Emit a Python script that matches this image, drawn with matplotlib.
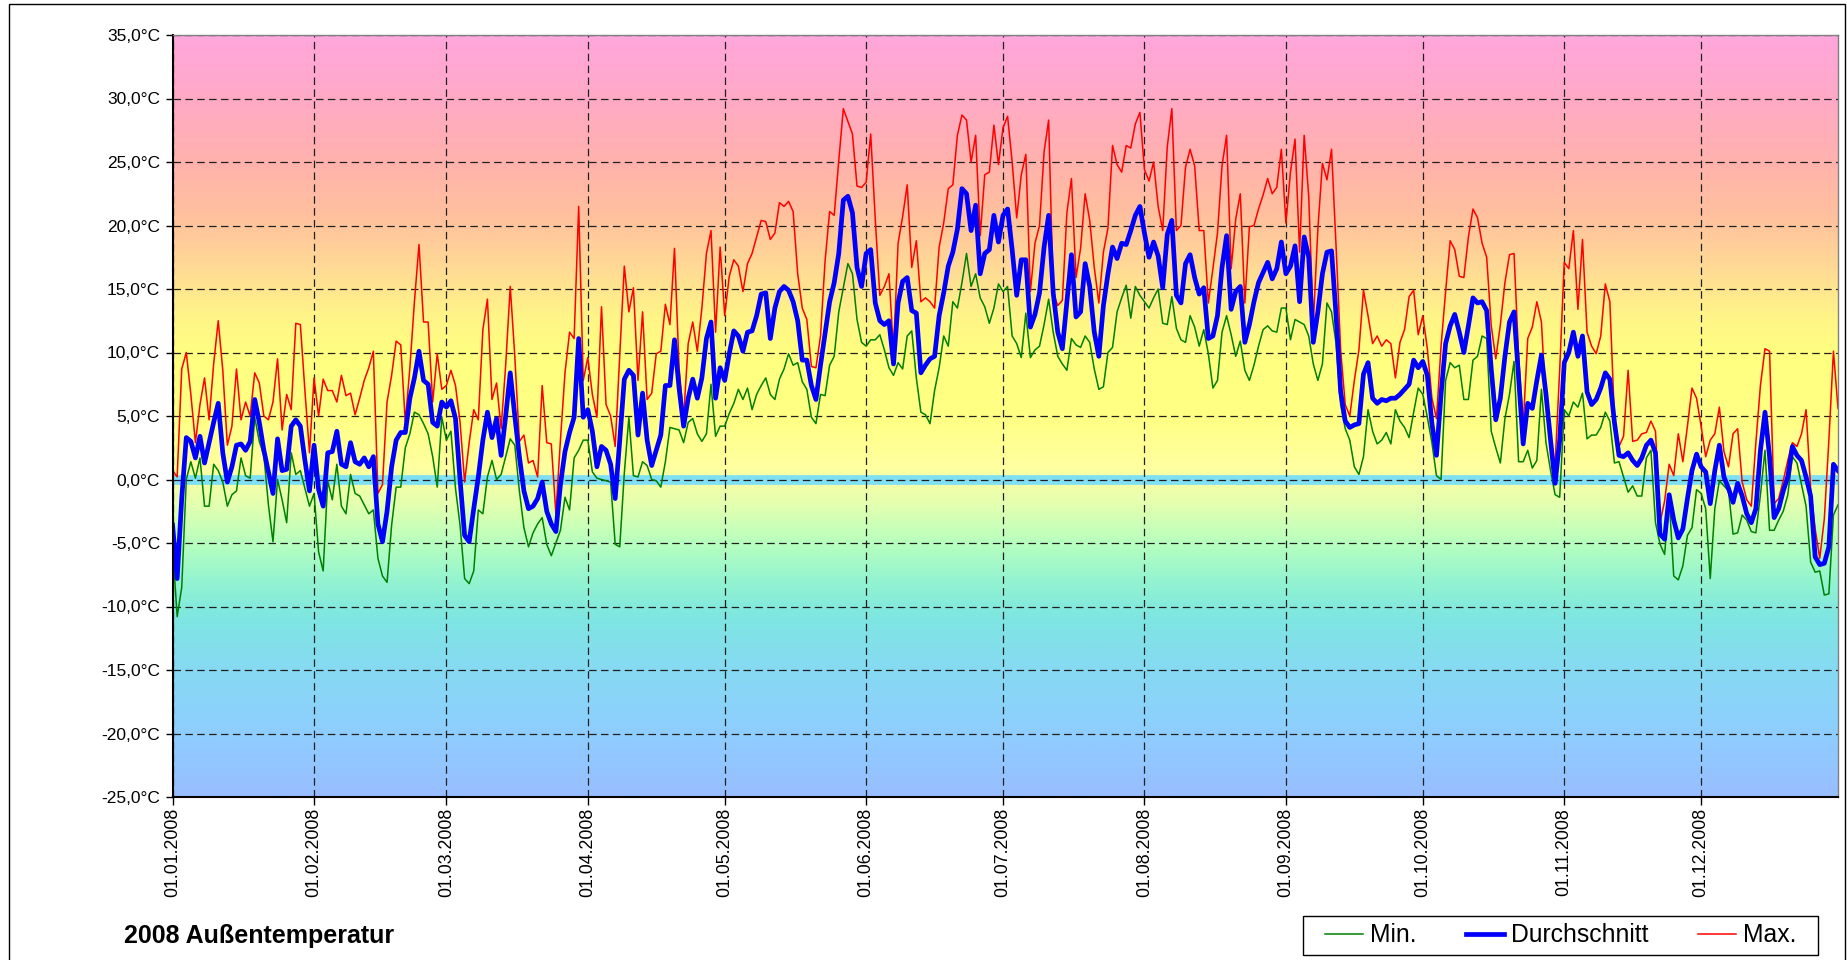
import numpy as np
import pandas as pd
import matplotlib
matplotlib.use("Agg")
import matplotlib.pyplot as plt
import matplotlib.dates as mdates
from matplotlib.colors import LinearSegmentedColormap
from matplotlib.patches import Rectangle
from matplotlib.lines import Line2D
from matplotlib.ticker import FuncFormatter

plt.rcParams['font.family'] = ['Liberation Sans', 'DejaVu Sans']

dates = pd.date_range('2008-01-01', '2008-12-31', freq='D')

t_max = [
    0.7, 0.2, 8.7, 10.0, 6.7, 2.9, 5.9, 8.0, 4.7, 9.1,
    12.5, 8.6, 2.7, 4.2, 8.7, 4.7, 6.1, 5.0, 8.4, 7.6,
    5.0, 4.7, 6.1, 9.5, 3.9, 6.7, 5.5, 12.3, 12.2, 7.0,
    2.1, 8.0, 5.0, 7.9, 7.0, 7.0, 6.1, 8.2, 6.6, 6.8,
    5.1, 6.4, 7.8, 8.8, 10.1, -1.1, -0.4, 6.1, 8.2, 10.9,
    10.6, 4.5, 8.8, 14.0, 18.5, 12.4, 12.4, 6.1, 9.9, 7.1,
    7.4, 8.6, 7.4, 4.5, -0.2, 2.9, 5.5, 4.7, 11.8, 14.2,
    6.3, 7.6, 4.0, 9.0, 15.2, 9.7, 3.0, 3.5, 1.3, 1.5,
    0.2, 7.4, 2.9, 2.8, -2.7, 3.1, 8.4, 11.6, 11.1, 21.5,
    7.8, 9.6, 6.7, 4.9, 13.6, 5.9, 5.0, 2.6, 9.8, 16.8,
    13.2, 15.1, 7.8, 13.2, 6.3, 6.8, 9.9, 10.1, 13.8, 12.2,
    18.2, 8.8, 4.9, 10.7, 12.4, 10.1, 13.5, 17.8, 19.6, 11.6,
    18.3, 12.9, 16.0, 17.3, 16.8, 14.8, 17.0, 17.8, 19.1, 20.4,
    20.3, 18.9, 19.4, 21.8, 21.5, 21.9, 21.1, 16.2, 13.5, 12.6,
    8.9, 8.8, 11.3, 17.2, 21.1, 20.8, 25.1, 29.2, 28.2, 27.2,
    23.1, 23.0, 23.4, 27.2, 20.5, 14.5, 15.2, 16.2, 10.1, 18.6,
    20.7, 23.2, 16.7, 18.8, 14.0, 14.3, 14.0, 13.5, 18.3, 20.2,
    22.9, 23.2, 27.1, 28.7, 28.3, 25.0, 27.1, 19.2, 24.0, 24.2,
    27.9, 24.8, 27.7, 28.6, 25.0, 20.6, 24.0, 25.6, 14.8, 18.6,
    20.0, 25.8, 28.3, 14.7, 13.7, 14.1, 21.0, 23.7, 15.9, 18.2,
    22.5, 20.4, 16.7, 13.9, 17.9, 19.8, 26.3, 24.8, 24.2, 26.3,
    26.1, 28.0, 28.9, 24.4, 23.5, 25.0, 21.5, 19.6, 26.2, 29.2,
    19.6, 20.0, 24.6, 26.0, 24.7, 19.6, 19.6, 13.9, 16.6, 19.4,
    24.7, 27.1, 16.6, 20.5, 22.5, 13.9, 19.9, 20.0, 21.3, 22.4,
    23.7, 22.5, 23.0, 26.0, 20.2, 24.2, 26.8, 17.9, 27.1, 22.3,
    12.2, 19.7, 24.9, 23.6, 26.0, 18.3, 10.2, 5.9, 5.0, 7.8,
    10.2, 14.9, 12.9, 10.7, 11.3, 10.5, 11.0, 10.7, 8.0, 10.8,
    11.8, 14.4, 14.9, 11.4, 12.9, 10.3, 6.4, 4.8, 10.5, 14.8,
    18.8, 18.1, 16.0, 15.9, 19.1, 21.3, 20.6, 18.6, 17.5, 12.1,
    9.5, 12.2, 15.5, 17.7, 17.8, 9.7, 4.2, 11.1, 12.0, 14.0,
    12.4, 5.9, 2.9, 1.2, 8.6, 17.1, 16.6, 19.6, 13.4, 18.9,
    11.6, 10.5, 9.9, 11.3, 15.4, 14.0, 4.8, 2.6, 3.4, 8.6,
    3.0, 3.1, 3.6, 3.7, 4.6, 3.8, -3.4, -1.7, 1.2, 0.3,
    3.6, 1.4, 4.2, 7.2, 6.4, 4.2, 1.8, 3.1, 3.6, 5.7,
    2.2, 1.0, 3.6, 4.0, -0.2, -1.6, -2.1, 2.9, 7.4, 10.3,
    10.1, -1.9, -1.5, -0.1, 1.5, 2.9, 2.6, 3.6, 5.5, -0.7,
    -3.9, -6.2, -3.1, 3.1, 10.1, 5.6,
]

t_avg = [
    -3.6, -7.8, -1.5, 3.3, 3.0, 1.7, 3.4, 1.3, 2.9, 4.5,
    6.0, 2.1, -0.2, 1.0, 2.7, 2.8, 2.3, 3.0, 6.3, 4.5,
    2.3, 0.6, -1.1, 3.2, 0.7, 0.8, 4.2, 4.7, 4.2, 1.5,
    -0.9, 2.7, -0.8, -2.1, 2.1, 2.2, 3.8, 1.2, 1.0, 2.9,
    1.4, 1.2, 1.7, 1.0, 1.8, -3.5, -4.9, -2.5, 1.0, 3.1,
    3.7, 3.7, 6.4, 8.0, 10.1, 7.8, 7.5, 4.5, 4.2, 6.1,
    5.7, 6.2, 4.8, 0.0, -4.4, -4.9, -2.3, 0.2, 3.1, 5.3,
    3.3, 4.8, 1.9, 5.0, 8.4, 5.0, 1.8, -0.9, -2.3, -2.1,
    -1.5, -0.2, -2.5, -3.5, -4.1, -0.4, 2.2, 3.7, 4.9, 11.1,
    4.9, 5.5, 3.8, 1.0, 2.6, 2.3, 1.2, -1.5, 3.1, 7.9,
    8.6, 8.2, 3.5, 6.8, 3.1, 1.1, 2.3, 3.5, 7.4, 7.4,
    11.0, 7.2, 4.2, 6.4, 7.9, 6.4, 8.0, 11.1, 12.4, 6.4,
    8.8, 7.8, 9.9, 11.7, 11.3, 10.1, 11.6, 11.7, 12.9, 14.6,
    14.7, 11.1, 13.5, 14.8, 15.2, 14.9, 14.0, 12.5, 9.4, 9.4,
    7.4, 6.3, 9.0, 11.5, 14.0, 15.5, 17.8, 22.0, 22.3, 21.0,
    16.7, 15.2, 17.8, 18.1, 13.9, 12.5, 12.2, 12.5, 9.1, 13.9,
    15.6, 15.9, 13.3, 13.1, 8.4, 9.0, 9.5, 9.7, 12.9, 14.7,
    16.8, 17.9, 19.7, 22.9, 22.5, 19.6, 21.6, 16.2, 17.8, 18.1,
    20.8, 18.7, 20.8, 21.3, 18.1, 14.5, 17.3, 17.3, 12.0, 13.0,
    14.7, 18.3, 20.8, 14.7, 11.6, 10.3, 14.0, 17.7, 12.8, 13.2,
    17.0, 15.2, 11.6, 9.7, 13.7, 16.2, 18.3, 17.4, 18.6, 18.5,
    19.6, 20.8, 21.5, 19.4, 17.5, 18.7, 17.6, 15.1, 19.3, 20.4,
    14.5, 13.9, 17.0, 17.7, 15.9, 14.6, 15.1, 11.1, 11.3, 12.9,
    16.7, 19.2, 13.4, 14.8, 15.2, 10.8, 12.2, 14.0, 15.5, 16.3,
    17.1, 15.8, 16.6, 18.7, 16.2, 16.8, 18.4, 14.0, 19.1, 17.5,
    10.8, 13.2, 16.2, 17.9, 18.0, 12.9, 6.9, 4.6, 4.1, 4.3,
    4.4, 8.3, 9.2, 6.4, 6.0, 6.3, 6.2, 6.4, 6.4, 6.7,
    7.1, 7.5, 9.4, 8.8, 9.3, 8.2, 4.4, 1.9, 6.7, 10.7,
    12.1, 13.0, 11.6, 10.0, 12.1, 14.3, 13.9, 14.0, 13.3, 8.7,
    4.7, 6.4, 9.7, 12.4, 13.2, 8.0, 2.8, 6.0, 5.6, 7.8,
    9.8, 6.7, 3.1, -0.3, 3.1, 9.2, 10.0, 11.6, 9.7, 11.3,
    6.9, 5.9, 6.3, 7.2, 8.4, 7.9, 4.5, 1.9, 1.8, 2.1,
    1.5, 1.1, 1.7, 2.7, 3.1, 2.1, -4.3, -4.7, -1.2, -3.2,
    -4.6, -3.9, -1.5, 0.7, 2.0, 1.0, 0.6, -1.9, 0.7, 2.7,
    0.2, -0.7, -1.8, -0.3, -1.3, -2.7, -3.4, -2.3, 2.3, 5.3,
    1.8, -3.0, -2.3, -0.9, 0.2, 2.6, 1.9, 1.5, 0.2, -1.3,
    -6.1, -6.7, -6.6, -5.3, 1.2, 0.7,
]

t_min = [
    -5.3, -10.8, -8.5, 0.0, 1.4, 0.1, 1.7, -2.1, -2.1, 1.2,
    0.7, -0.2, -2.1, -1.2, -0.9, 1.7, 0.3, 0.1, 4.9, 3.0,
    1.9, -2.0, -4.9, 0.0, -1.6, -3.4, 2.1, 0.4, 0.7, -0.7,
    -2.1, -1.1, -5.7, -7.2, -0.1, -1.6, 1.2, -2.1, -2.7, 0.4,
    -1.1, -1.3, -2.0, -2.7, -2.4, -6.2, -7.6, -8.1, -3.6, -0.6,
    -0.6, 2.5, 3.6, 5.3, 5.1, 4.4, 3.6, 1.8, -0.6, 4.9,
    3.1, 3.8, -0.7, -3.6, -7.8, -8.2, -7.2, -2.4, -2.7, 0.2,
    1.5, 0.0, 0.4, 1.8, 3.2, 2.7, -0.9, -3.8, -5.3, -4.2,
    -3.5, -3.0, -5.1, -6.0, -5.0, -4.0, -1.4, -2.4, 1.7, 2.3,
    3.1, 3.1, 0.6, 0.1, 0.0, -0.1, -0.2, -5.1, -5.3, 0.5,
    4.9, 0.3, 0.2, 1.4, 1.1, 0.0, -0.1, -0.6, 1.4, 4.1,
    4.0, 3.9, 2.9, 4.5, 4.8, 3.6, 3.0, 3.6, 7.5, 3.4,
    4.2, 4.2, 5.2, 6.0, 7.1, 6.3, 7.2, 5.5, 6.7, 7.4,
    8.0, 6.7, 6.3, 7.9, 8.7, 9.9, 9.0, 9.2, 7.7, 7.1,
    4.9, 4.4, 6.7, 6.6, 9.0, 9.7, 13.2, 15.1, 17.0, 16.2,
    12.6, 10.8, 10.5, 11.0, 11.0, 11.4, 10.2, 8.8, 8.2, 9.2,
    8.7, 11.3, 11.7, 8.0, 5.3, 5.1, 4.4, 7.0, 8.8, 11.3,
    10.5, 14.0, 13.5, 15.5, 17.8, 15.2, 16.2, 14.3, 13.6, 12.3,
    13.5, 15.4, 14.8, 15.2, 11.3, 10.7, 9.6, 13.1, 9.6, 10.2,
    10.5, 12.2, 14.2, 11.6, 9.7, 9.1, 8.6, 11.1, 10.6, 10.4,
    11.3, 10.8, 8.7, 7.1, 7.3, 10.0, 10.4, 13.2, 14.3, 15.3,
    12.7, 15.2, 14.5, 14.0, 13.5, 14.3, 15.0, 12.3, 12.2, 14.4,
    11.9, 11.0, 10.8, 12.9, 12.0, 10.5, 11.8, 9.9, 7.2, 7.8,
    11.6, 12.9, 11.4, 9.7, 10.9, 8.6, 7.8, 9.0, 10.5, 11.8,
    12.1, 11.7, 11.6, 13.5, 13.5, 11.0, 12.6, 12.4, 12.2, 11.3,
    9.1, 7.8, 9.1, 13.9, 13.2, 10.7, 5.9, 4.0, 3.1, 1.0,
    0.4, 1.8, 5.5, 3.8, 2.8, 3.1, 3.7, 2.8, 5.5, 4.6,
    4.1, 3.3, 5.3, 7.2, 6.7, 4.9, 2.9, 0.3, 0.0, 7.8,
    9.2, 8.8, 9.0, 6.3, 6.3, 9.4, 9.7, 11.3, 11.1, 3.8,
    2.5, 1.3, 4.8, 6.7, 9.3, 1.4, 1.4, 2.3, 0.9, 1.5,
    7.1, 2.9, 0.7, -1.2, -1.4, 5.5, 5.0, 6.1, 5.7, 6.8,
    3.2, 3.5, 3.5, 4.1, 5.3, 4.6, 1.3, 1.4, 0.2, -1.0,
    -0.5, -1.3, -1.3, 1.7, 2.3, -3.4, -5.1, -5.9, -1.5, -7.6,
    -7.9, -6.8, -4.4, -3.8, -0.8, -1.1, -2.3, -7.8, -2.3, -0.1,
    -0.5, -0.9, -4.3, -4.2, -2.8, -3.2, -4.1, -4.2, -1.2, 2.3,
    -4.0, -4.0, -3.2, -2.5, -1.2, 1.8, 1.3, -0.4, -2.1, -6.5,
    -7.3, -7.2, -9.1, -9.0, -2.8, -2.0,
]

y_ticks = list(range(-25, 36, 5))
series_labels = ['Min.', 'Durchschnitt', 'Max.']
title_text = '2008 Außentemperatur'

# background gradient colour stops (temperature -> colour)
grad_T = [-25, -20, -15, -11, -8, -5, -2, 1, 5, 10, 13, 17, 21, 25, 30, 35]
grad_C = ['#98BEFF', '#8ECEFF', '#86DAF2', '#7EE6E2', '#94F4D0', '#B8FFBE', '#E4FFB0',
          '#FFFFA0', '#FFFF84', '#FFFF80', '#FFF488', '#FFD896', '#FFC09E', '#FFB2AC',
          '#FFAAC6', '#FFA6DC']

W, H = 1847, 960
fig = plt.figure(figsize=(W / 100, H / 100), dpi=100)
L, R, T, B = 172.6, 1838, 35, 797
ax = fig.add_axes([L / W, 1 - B / H, (R - L) / W, (B - T) / H])
ax.set_xlim(dates[0], dates[-1])
ax.set_ylim(-25, 35)

x0, x1 = ax.get_xlim()
pos = [(t + 25) / 60 for t in grad_T]
cmap = LinearSegmentedColormap.from_list('bg', list(zip(pos, grad_C)))
grad = np.linspace(0, 1, 600).reshape(-1, 1)
ax.imshow(grad, extent=[x0, x1, -25, 35], origin='lower', aspect='auto',
          cmap=cmap, vmin=0, vmax=1, zorder=0, interpolation='bilinear')

ax.axhline(0, color='#7FE0F4', lw=7, zorder=1)

ax.set_yticks(y_ticks)
ax.yaxis.set_major_formatter(FuncFormatter(lambda v, p: f"{v:.1f}".replace('.', ',') + "°C"))
ax.xaxis.set_major_locator(mdates.MonthLocator())
ax.xaxis.set_major_formatter(mdates.DateFormatter('%d.%m.%Y'))

ax.grid(True, color='#202020', lw=0.9, linestyle=(0, (6, 3.5)), zorder=2)
ax.set_axisbelow(False)
for gl in ax.get_xgridlines() + ax.get_ygridlines():
    gl.set_zorder(2)

ax.tick_params(axis='y', direction='out', length=5, width=1, pad=4, labelsize=12.5)
ax.tick_params(axis='x', direction='out', length=6, width=1, pad=2, labelsize=12.8,
               labelrotation=90)
for lab in ax.get_xticklabels():
    lab.set_va('top')

lmin, = ax.plot(dates, t_min, color='#008000', lw=1.1, zorder=3, label=series_labels[0])
lmax, = ax.plot(dates, t_max, color='#FF0000', lw=1.1, zorder=3, label=series_labels[2])
lavg, = ax.plot(dates, t_avg, color='#0000FF', lw=3.4, zorder=4, label=series_labels[1],
                solid_joinstyle='round')

for s in ['left', 'bottom']:
    ax.spines[s].set_color('black')
    ax.spines[s].set_linewidth(1.5)
for s in ['top', 'right']:
    ax.spines[s].set_color('#808080')
    ax.spines[s].set_linewidth(1.0)
for s in ax.spines.values():
    s.set_zorder(5)

fig.text(124 / W, 1 - 936 / H, title_text, fontsize=18, fontweight='bold',
         ha='left', va='center')

# legend box (drawn as frame) and entries
LB_x0, LB_x1, LB_y0, LB_y1 = 1303, 1818, 916, 955
fig.add_artist(Rectangle((LB_x0 / W, 1 - LB_y1 / H), (LB_x1 - LB_x0) / W, (LB_y1 - LB_y0) / H,
                         transform=fig.transFigure, facecolor='white',
                         edgecolor='black', lw=1.0, zorder=1))
handles = [Line2D([], [], color='#008000', lw=1.1),
           Line2D([], [], color='#0000FF', lw=3.4),
           Line2D([], [], color='#FF0000', lw=1.1)]
leg = fig.legend(handles, series_labels, loc='center',
                 bbox_to_anchor=((LB_x0 + LB_x1) / 2 / W, 1 - (LB_y0 + LB_y1) / 2 / H),
                 ncol=3, frameon=False,
                 fontsize=17.8, handlelength=1.53, handletextpad=0.29,
                 columnspacing=2.0, borderpad=0.2, borderaxespad=0)
leg.set_zorder(2)

fig.add_artist(Rectangle((9 / W, -0.1), (1845 - 9) / W, 1.1 - 4 / H,
                         transform=fig.transFigure, fill=False,
                         edgecolor='black', lw=1.0))

fig.savefig('out.png', dpi=100)
